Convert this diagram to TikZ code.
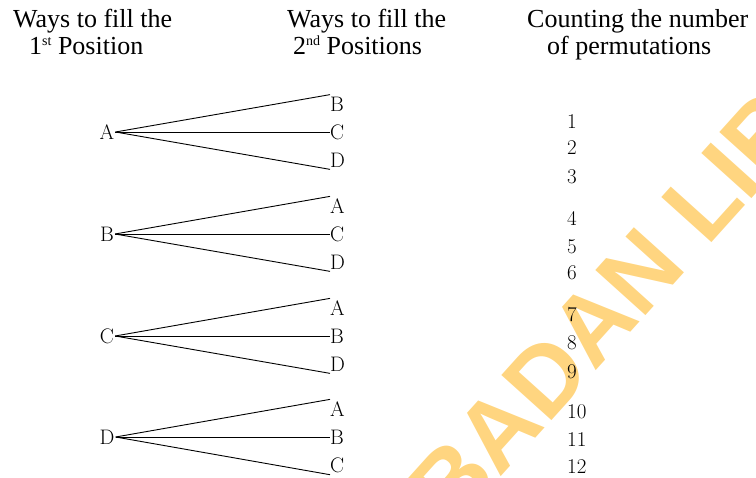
\documentclass[tikz,border=0pt]{standalone}
\usepackage{fontspec}
\newfontfamily\hdfont{Liberation Serif}
\newfontfamily\wmfont{Liberation Sans}
\definecolor{wm}{RGB}{255,213,128}
\newcommand{\supx}[1]{\raisebox{9pt}{\fontsize{14}{14}\selectfont #1}}
\begin{document}
\begin{tikzpicture}[x=1pt,y=-1pt,
  hd/.style={anchor=base west, inner sep=0, font=\hdfont\fontsize{26}{26}\selectfont},
  lt/.style={inner sep=0, font=\fontsize{21}{21}\selectfont},
  rl/.style={lt, anchor=west},
  num/.style={anchor=west, inner sep=0, font=\fontsize{21}{21}\selectfont},
  br/.style={line width=0.9pt}]
\useasboundingbox (0,0) rectangle (756,478);
% watermark
\begin{scope}
\clip (0,0) rectangle (756,478);
\node[rotate=48, anchor=base west, inner sep=0, text=wm,
  font=\wmfont\bfseries\fontsize{98}{98}\selectfont] (wmk) at (434,551) {IBADAN LIBRARY};
\end{scope}
% headers
\node[hd] (h1a) at (13,28) {Ways to fill the};
\node[hd] (h1b) at (29,55) {1\supx{st} Position};
\node[hd] (h2a) at (287,28) {Ways to fill the};
\node[hd] (h2b) at (293,55) {2\supx{nd} Positions};
\node[hd] (h3a) at (527,28) {Counting the number};
\node[hd] (h3b) at (547,55) {of permutations};
% tree
\foreach \i/\Y/\L/\P/\Q/\R in {1/132/A/B/C/D, 2/234/B/A/C/D, 3/336/C/A/B/D, 4/437/D/A/B/C}{
  \node[lt] (g\i) at (107,\Y) {\L};
  \node[rl] (g\i p) at (330,\Y-28) {\P};
  \node[rl] (g\i q) at (330,\Y) {\Q};
  \node[rl] (g\i r) at (330,\Y+28) {\R};
  \draw[br] ([xshift=1pt]g\i.east) -- ([yshift=2pt]g\i p.north west);
  \draw[br] ([xshift=1pt]g\i.east) -- (g\i q.west);
  \draw[br] ([xshift=1pt]g\i.east) -- ([yshift=-2pt]g\i r.south west);
}
% numbers
\foreach \n/\y in {1/122,2/148,3/177,4/218,5/247,6/273,7/315,8/343,9/372,10/412,11/440,12/467}{
  \node[num] (n\n) at (567,\y) {\n};
}
\end{tikzpicture}
\end{document}
